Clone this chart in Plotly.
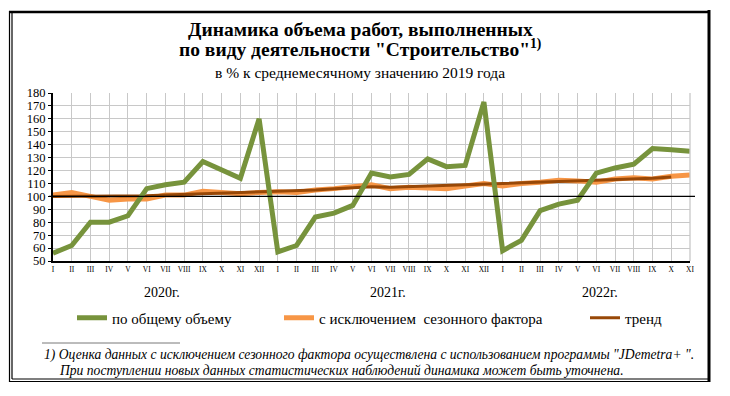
import plotly.graph_objects as go

months = ["I","II","III","IV","V","VI","VII","VIII","IX","X","XI","XII"]
month_labels = months + months + months[:11]
years = ["2020г.", "2021г.", "2022г."]
year_pos = [5.8, 17.9, 29.2]

total = [56, 62, 80, 80, 85, 106, 109, 111, 127, 121, 114, 160,
         57, 62, 84, 87, 93, 118, 115, 117, 129, 123, 124, 173,
         58, 66, 89, 94, 97, 118, 122, 125, 137, 136, 135]
seasonal = [101, 103, 100, 97, 98, 98, 101, 101, 104, 103, 102, 103,
            103.5, 103, 105, 106, 107.5, 109, 106, 107, 106.5, 106, 108, 110,
            108, 110, 111, 112.5, 112, 111, 113.5, 114.5, 113.5, 115.5, 116.5]
trend = [100, 100, 100, 100, 100, 100.5, 101, 101.5, 102, 102, 102.5, 103,
         103.5, 104, 105, 106, 107, 107.5, 107, 107.5, 108, 108, 109, 109.5,
         109.5, 110, 111, 111.5, 112, 112, 113, 113.5, 114, 115]

names = ["по общему объему", "с исключением  сезонного фактора", "тренд"]
colors = ["#77933C", "#F79646", "#984807"]

OFF = 8  # default page body margin
W, H = 730 - OFF, 396 - OFF
# plot area in screen pixels: x 53..690, y 93..261
L, R, T, B = 53 - OFF, 730 - 690, 93 - OFF, 396 - 261
PW, PH = W - L - R, H - T - B

def px(x):
    return (x - OFF - L) / PW

def py(y):
    return (H - B - (y - OFF)) / PH

serif = "Liberation Serif"

xs = list(range(len(month_labels)))
fig = go.Figure()
fig.add_trace(go.Scatter(x=xs, y=seasonal, mode="lines", name=names[1],
                         line=dict(color=colors[1], width=5), legend="legend2"))
fig.add_trace(go.Scatter(x=xs[:len(trend)], y=trend, mode="lines", name=names[2],
                         line=dict(color=colors[2], width=3), legend="legend3"))
fig.add_trace(go.Scatter(x=xs, y=total, mode="lines", name=names[0],
                         line=dict(color=colors[0], width=5), legend="legend"))

def leg(xpix):
    return dict(orientation="h", x=px(xpix), y=py(318), yanchor="middle", xanchor="left",
                font=dict(size=15, family=serif, color="black"), itemwidth=30,
                bgcolor="rgba(0,0,0,0)")

fig.update_layout(
    width=W, height=H,
    margin=dict(l=L, r=R, t=T, b=B, pad=0, autoexpand=False),
    paper_bgcolor="white", plot_bgcolor="white",
    font=dict(family=serif, color="black"),
    showlegend=True,
    legend=leg(72), legend2=leg(279), legend3=leg(585),
    xaxis=dict(range=[0, 34], tickmode="array", tickvals=xs, ticktext=month_labels,
               tickfont=dict(size=7.5, family=serif, color="black"), showgrid=True,
               gridcolor="#c8c8c8", gridwidth=1.3, showline=True, linecolor="black",
               linewidth=2, ticks="", zeroline=False, mirror=False, tickangle=0,
               fixedrange=True),
    yaxis=dict(range=[50, 180], tickmode="array", tickvals=list(range(50, 181, 10)),
               tickfont=dict(size=12.5, family=serif, color="black"), showgrid=True,
               gridcolor="#c8c8c8", gridwidth=1.3, showline=True, linecolor="black",
               linewidth=2, ticks="outside", ticklen=3, tickcolor="black",
               zeroline=False, fixedrange=True),
)

shapes = []
shapes.append(dict(type="line", xref="paper", yref="paper", x0=1, x1=1, y0=0, y1=1,
                   line=dict(color="#c8c8c8", width=1.3)))
shapes.append(dict(type="line", xref="paper", yref="y", x0=px(49), x1=px(695), y0=100, y1=100,
                   line=dict(color="black", width=1.2)))
shapes.append(dict(type="line", xref="paper", yref="paper", x0=px(9), x1=px(710), y0=py(12), y1=py(12),
                   line=dict(color="black", width=2.5)))
shapes.append(dict(type="line", xref="paper", yref="paper", x0=px(709), x1=px(709), y0=py(10), y1=py(382),
                   line=dict(color="black", width=3)))
shapes.append(dict(type="line", xref="paper", yref="paper", x0=px(9.5), x1=px(9.5), y0=py(11), y1=py(382),
                   line=dict(color="black", width=1.2)))
shapes.append(dict(type="line", xref="paper", yref="paper", x0=px(12), x1=px(12), y0=py(12), y1=py(379),
                   line=dict(color="black", width=1.2)))
shapes.append(dict(type="line", xref="paper", yref="paper", x0=px(9), x1=px(710), y0=py(381.5), y1=py(381.5),
                   line=dict(color="black", width=1.2)))
shapes.append(dict(type="line", xref="paper", yref="paper", x0=px(12), x1=px(708), y0=py(379), y1=py(379),
                   line=dict(color="black", width=1.2)))
shapes.append(dict(type="line", xref="paper", yref="paper", x0=px(42), x1=px(180), y0=py(343), y1=py(343),
                   line=dict(color="#555555", width=0.8)))
fig.update_layout(shapes=shapes)

ann = []
ann.append(dict(text="<b>Динамика объема работ, выполненных</b>", x=px(360), y=py(29),
                xref="paper", yref="paper", showarrow=False, font=dict(size=19.5, family=serif, color="black"),
                xanchor="center", yanchor="middle"))
ann.append(dict(text="<b>по виду деятельности \"Строительство\"<sup>1)</sup></b>", x=px(360), y=py(48),
                xref="paper", yref="paper", showarrow=False, font=dict(size=19.5, family=serif, color="black"),
                xanchor="center", yanchor="middle"))
ann.append(dict(text="в % к среднемесячному значению 2019 года", x=px(360), y=py(72),
                xref="paper", yref="paper", showarrow=False, font=dict(size=15.5, family=serif, color="black"),
                xanchor="center", yanchor="middle"))
for yl, xp in zip(years, year_pos):
    ann.append(dict(text=yl, x=xp, y=py(292), xref="x", yref="paper", showarrow=False,
                    font=dict(size=14, family=serif, color="black"), xanchor="center", yanchor="middle"))
ann.append(dict(text="<i>1) Оценка данных с исключением сезонного фактора осуществлена с использованием программы \"JDemetra+ \".</i>",
                x=px(42), y=py(355), xref="paper", yref="paper", showarrow=False,
                font=dict(size=13.6, family=serif, color="black"), xanchor="left", yanchor="middle"))
ann.append(dict(text="<i>При поступлении новых данных статистических наблюдений динамика может быть уточнена.</i>",
                x=px(57), y=py(370), xref="paper", yref="paper", showarrow=False,
                font=dict(size=13.6, family=serif, color="black"), xanchor="left", yanchor="middle"))
fig.update_layout(annotations=ann)

fig.write_html("out.html")
